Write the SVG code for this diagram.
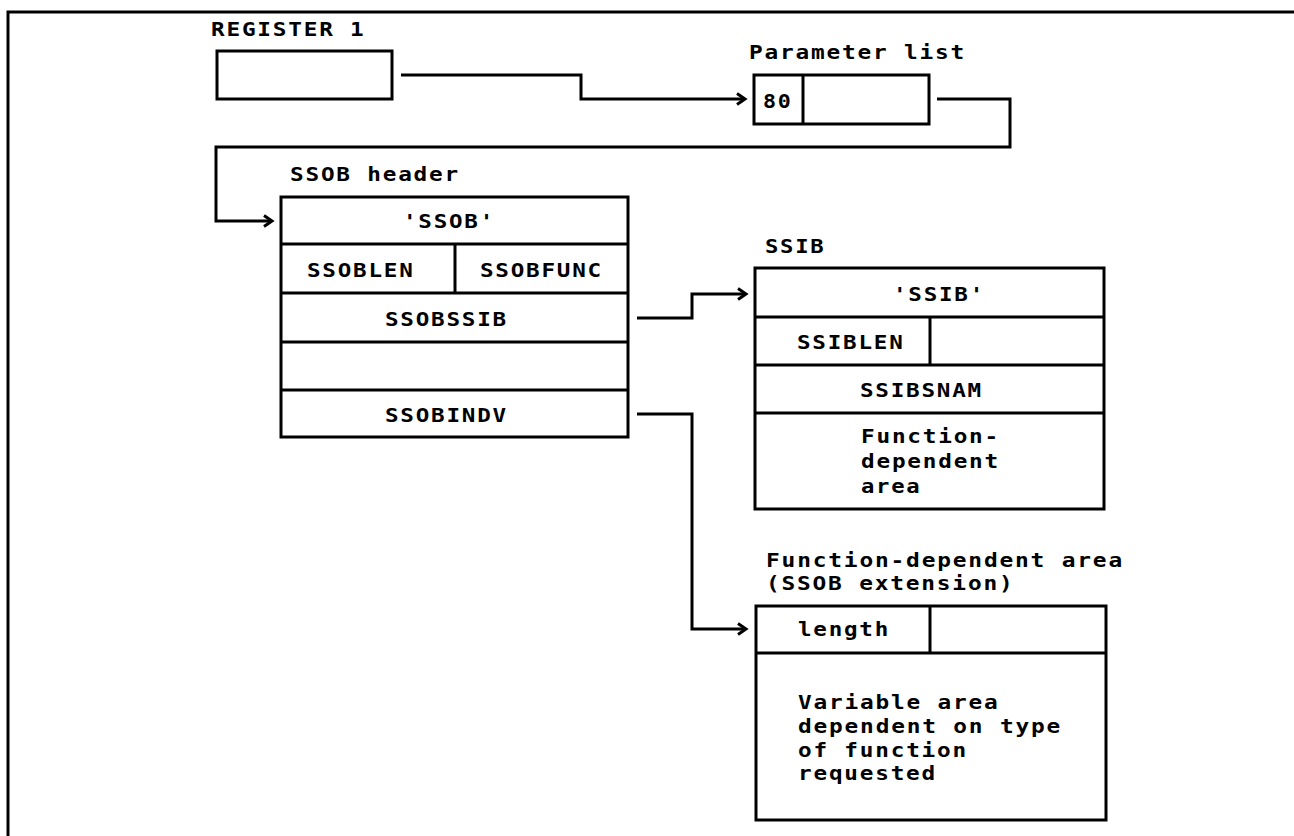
<svg xmlns="http://www.w3.org/2000/svg" width="1294" height="836" viewBox="0 0 1294 836">
  <defs>
    <style>
      .box { fill: none; stroke: #000; stroke-width: 3; }
      .ln { fill: none; stroke: #000; stroke-width: 3; }
      .conn { fill: none; stroke: #000; stroke-width: 3; marker-end: url(#arr); }
      text { font-family: "DejaVu Sans Mono", "Liberation Mono", monospace; font-weight: bold; font-size: 19px; letter-spacing: 1.5px; fill: #000; }
    </style>
    <marker id="arr" markerUnits="userSpaceOnUse" markerWidth="14" markerHeight="14" viewBox="0 0 14 14" refX="11" refY="7" orient="auto">
      <path d="M3,1.5 L11,7 L3,12.5" fill="none" stroke="#000" stroke-width="3"/>
    </marker>
  </defs>
  <rect width="1294" height="836" fill="#fff"/>

  <g id="frame">
    <path class="ln" d="M8,836 L8,12 L1294,12"/>
  </g>

  <g id="register1">
    <text x="211" y="36" textLength="154.5" lengthAdjust="spacingAndGlyphs">REGISTER 1</text>
    <rect class="box" x="217" y="51" width="175" height="48"/>
  </g>

  <g id="parameter-list">
    <text x="749" y="59" textLength="217" lengthAdjust="spacingAndGlyphs">Parameter list</text>
    <rect class="box" x="754" y="75" width="175" height="49"/>
    <line class="ln" x1="803" y1="75" x2="803" y2="124"/>
    <text x="763" y="108" textLength="29.5" lengthAdjust="spacingAndGlyphs">80</text>
  </g>

  <g id="ssob-header">
    <text x="290" y="181" textLength="170" lengthAdjust="spacingAndGlyphs">SSOB header</text>
    <rect class="box" x="281" y="197" width="347" height="240"/>
    <line class="ln" x1="281" y1="244" x2="628" y2="244"/>
    <line class="ln" x1="281" y1="293" x2="628" y2="293"/>
    <line class="ln" x1="281" y1="342" x2="628" y2="342"/>
    <line class="ln" x1="281" y1="390" x2="628" y2="390"/>
    <line class="ln" x1="455" y1="244" x2="455" y2="293"/>
    <text x="403" y="228" textLength="92" lengthAdjust="spacingAndGlyphs">'SSOB'</text>
    <text x="307" y="277" textLength="107.5" lengthAdjust="spacingAndGlyphs">SSOBLEN</text>
    <text x="480" y="277" textLength="123" lengthAdjust="spacingAndGlyphs">SSOBFUNC</text>
    <text x="385" y="326" textLength="123" lengthAdjust="spacingAndGlyphs">SSOBSSIB</text>
    <text x="385" y="422" textLength="123" lengthAdjust="spacingAndGlyphs">SSOBINDV</text>
  </g>

  <g id="ssib">
    <text x="765" y="253" textLength="60.5" lengthAdjust="spacingAndGlyphs">SSIB</text>
    <rect class="box" x="755" y="268" width="349" height="241"/>
    <line class="ln" x1="755" y1="317" x2="1104" y2="317"/>
    <line class="ln" x1="755" y1="365" x2="1104" y2="365"/>
    <line class="ln" x1="755" y1="413" x2="1104" y2="413"/>
    <line class="ln" x1="930" y1="317" x2="930" y2="365"/>
    <text x="893" y="301" textLength="92" lengthAdjust="spacingAndGlyphs">'SSIB'</text>
    <text x="797" y="349" textLength="107.5" lengthAdjust="spacingAndGlyphs">SSIBLEN</text>
    <text x="860" y="397" textLength="123" lengthAdjust="spacingAndGlyphs">SSIBSNAM</text>
    <text x="861" y="443" textLength="139" lengthAdjust="spacingAndGlyphs">Function-</text>
    <text x="861" y="468" textLength="139" lengthAdjust="spacingAndGlyphs">dependent</text>
    <text x="861" y="493" textLength="60.5" lengthAdjust="spacingAndGlyphs">area</text>
  </g>

  <g id="ssob-extension">
    <text x="766" y="567" textLength="358" lengthAdjust="spacingAndGlyphs">Function-dependent area</text>
    <text x="766" y="590" textLength="248.5" lengthAdjust="spacingAndGlyphs">(SSOB extension)</text>
    <rect class="box" x="756" y="606" width="350" height="214"/>
    <line class="ln" x1="756" y1="653" x2="1106" y2="653"/>
    <line class="ln" x1="930" y1="606" x2="930" y2="653"/>
    <text x="798" y="636" textLength="92" lengthAdjust="spacingAndGlyphs">length</text>
    <text x="798" y="709" textLength="201.5" lengthAdjust="spacingAndGlyphs">Variable area</text>
    <text x="798" y="733" textLength="264" lengthAdjust="spacingAndGlyphs">dependent on type</text>
    <text x="798" y="757" textLength="170" lengthAdjust="spacingAndGlyphs">of function</text>
    <text x="798" y="780" textLength="139" lengthAdjust="spacingAndGlyphs">requested</text>
  </g>

  <g id="connectors">
    <path class="conn" d="M401,75 L581,75 L581,99 L745,99"/>
    <path class="conn" d="M937,99 L1010,99 L1010,147 L216,147 L216,221 L272,221"/>
    <path class="conn" d="M637,318 L692,318 L692,294 L746,294"/>
    <path class="conn" d="M637,414 L692,414 L692,629 L746,629"/>
  </g>
</svg>
